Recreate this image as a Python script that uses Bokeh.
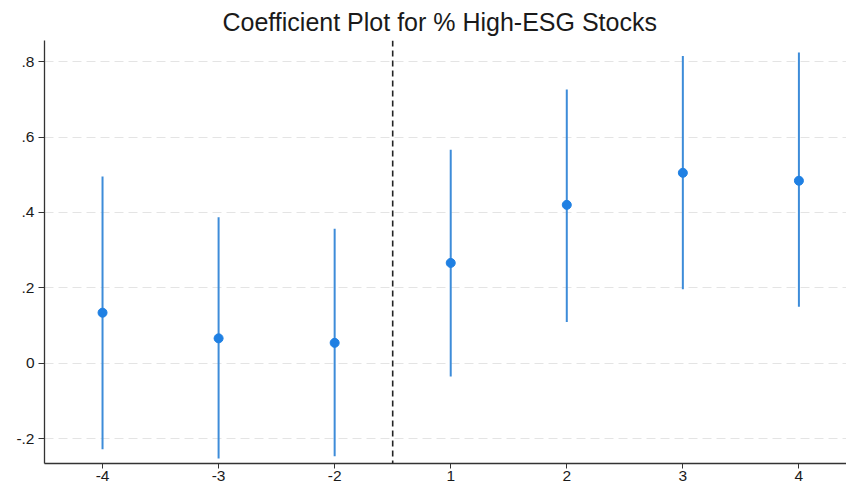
from bokeh.plotting import figure
from bokeh.models import ColumnDataSource, FixedTicker, Span, Range1d
from bokeh.embed import file_html
from bokeh.resources import INLINE

periods = ["-4", "-3", "-2", "1", "2", "3", "4"]
coef = [0.134, 0.066, 0.054, 0.266, 0.420, 0.505, 0.484]
ci_low = [-0.228, -0.253, -0.247, -0.035, 0.109, 0.196, 0.150]
ci_high = [0.495, 0.387, 0.357, 0.566, 0.726, 0.815, 0.824]
y_ticks = [-0.2, 0.0, 0.2, 0.4, 0.6, 0.8]
y_tick_labels = ["-.2", "0", ".2", ".4", ".6", ".8"]
event_line = 3.5

xpos = list(range(1, len(periods) + 1))
src = ColumnDataSource(dict(x=xpos, coef=coef, lo=ci_low, hi=ci_high))

FONT = "Liberation Sans"
p = figure(width=846, height=483, output_backend="svg", toolbar_location=None,
           x_range=Range1d(0.5, 7.41), y_range=Range1d(-0.266, 0.856),
           title="Coefficient Plot for % High-ESG Stocks",
           min_border_left=36, min_border_right=0, min_border_top=0, min_border_bottom=0)
p.title.align = "left"
p.title.offset = 178
p.title.text_font = FONT
p.title.text_font_size = "25px"
p.title.text_font_style = "normal"
p.title.text_color = "#1a1a1a"
p.title.standoff = 10
p.outline_line_color = None
p.background_fill_color = "white"
p.border_fill_color = "white"

p.segment(x0="x", y0="lo", x1="x", y1="hi", source=src, line_color="#3d8cd9", line_width=2)
p.scatter(x="x", y="coef", source=src, size=9, fill_color="#1f80e3", line_color="#1f80e3")

p.add_layout(Span(location=event_line, dimension="height", line_color="#222222",
                  line_dash="6 4", line_width=1.6))

p.xaxis.ticker = FixedTicker(ticks=xpos)
p.xaxis.major_label_overrides = {x: lab for x, lab in zip(xpos, periods)}
p.yaxis.ticker = FixedTicker(ticks=y_ticks)
p.yaxis.major_label_overrides = {t: lab for t, lab in zip(y_ticks, y_tick_labels)}
for ax in (p.xaxis, p.yaxis):
    ax.major_label_text_font = FONT
    ax.major_label_text_font_size = "15.5px"
    ax.major_label_text_color = "#1a1a1a"
    ax.axis_line_color = "#333333"
    ax.axis_line_width = 1.3
    ax.major_tick_line_color = "#333333"
    ax.major_tick_in = 0
    ax.major_tick_out = 6
    ax.minor_tick_line_color = None
p.xaxis.major_tick_out = 5
p.yaxis.major_label_orientation = 0
p.xaxis.major_label_standoff = 2
p.yaxis.major_label_standoff = 4
# thin spacer label to push the frame to the right as in the reference
p.yaxis.axis_label = " "
p.yaxis.axis_label_text_font_size = "2px"
p.yaxis.axis_label_standoff = 8

p.xgrid.grid_line_color = None
p.ygrid.grid_line_color = "#e4e4e4"
p.ygrid.grid_line_dash = "9 5"
p.ygrid.grid_line_width = 1

open("out.html", "w").write(file_html(p, INLINE))
